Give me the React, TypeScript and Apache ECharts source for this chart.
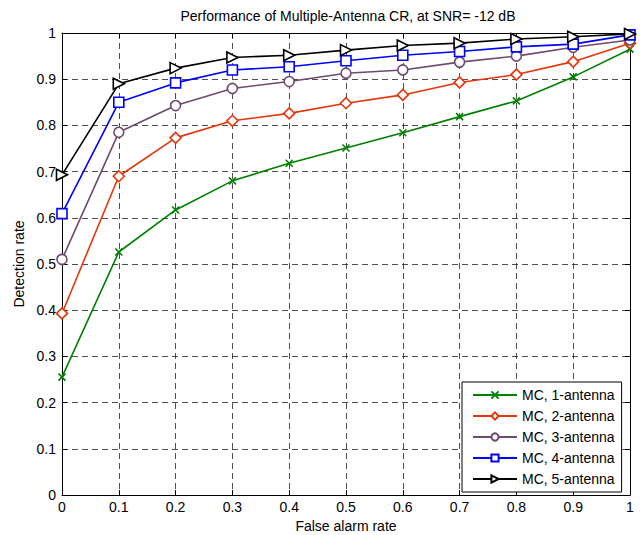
import React, { useEffect, useRef } from "react";
import * as echarts from "echarts";

const xValues = [0, 0.1, 0.2, 0.3, 0.4, 0.5, 0.6, 0.7, 0.8, 0.9, 1];
const ant1 = [0.255, 0.526, 0.617, 0.68, 0.718, 0.751, 0.784, 0.819, 0.853, 0.905, 0.965];
const ant2 = [0.393, 0.69, 0.773, 0.81, 0.826, 0.848, 0.866, 0.893, 0.91, 0.938, 0.978];
const ant3 = [0.51, 0.785, 0.843, 0.88, 0.895, 0.913, 0.92, 0.937, 0.95, 0.969, 0.985];
const ant4 = [0.609, 0.85, 0.892, 0.92, 0.927, 0.94, 0.952, 0.96, 0.97, 0.976, 0.996];
const ant5 = [0.693, 0.89, 0.924, 0.947, 0.952, 0.963, 0.973, 0.978, 0.987, 0.992, 0.998];
const seriesNames = ["MC, 1-antenna", "MC, 2-antenna", "MC, 3-antenna", "MC, 4-antenna", "MC, 5-antenna"];

const FONT = "Liberation Sans, Arial, sans-serif";
const FS = 14;

export default function App() {
  const ref = useRef<HTMLDivElement>(null);
  useEffect(() => {
    if (!ref.current) return;
    const chart = echarts.init(ref.current, null, { renderer: "svg" });
    const pair = (arr: number[]) => arr.map((v, i) => [xValues[i], v]);
    const mk = (
      name: string,
      data: number[],
      color: string,
      symbol: string,
      size: number,
      fill: string
    ) => ({
      name,
      type: "line",
      data: pair(data),
      symbol,
      symbolSize: size,
      showAllSymbol: true,
      lineStyle: { color, width: 1.6 },
      itemStyle: { color: fill, borderColor: color, borderWidth: 1.6 },
      emphasis: { disabled: true },
      z: 3,
    });
    const dashed = { show: true, lineStyle: { color: "#222", type: [6, 4], width: 0.8 } };
    chart.setOption({
      animation: false,
      backgroundColor: "#fff",
      title: {
        text: "Performance of Multiple-Antenna CR, at SNR= -12 dB",
        left: 343,
        textAlign: "center",
        top: 4,
        textStyle: { fontFamily: FONT, fontSize: FS, fontWeight: "normal", color: "#000" },
      },
      grid: {
        left: 62,
        right: 10,
        top: 33,
        bottom: 40,
        containLabel: false,
        outerBoundsMode: "none",
      },
      xAxis: [
        {
          type: "value",
          min: 0,
          max: 1,
          interval: 0.1,
          name: "False alarm rate",
          nameLocation: "middle",
          nameGap: 18,
          nameTextStyle: { fontFamily: FONT, fontSize: FS, color: "#000" },
          axisLine: { show: true, onZero: false, lineStyle: { color: "#000", width: 1 } },
          axisTick: { show: true, inside: true, length: 5, lineStyle: { color: "#000" } },
          axisLabel: { fontFamily: FONT, fontSize: FS, color: "#000", margin: 5 },
          splitLine: dashed,
        },
        {
          type: "value",
          position: "top",
          min: 0,
          max: 1,
          interval: 0.1,
          axisLine: { show: true, onZero: false, lineStyle: { color: "#000", width: 1 } },
          axisTick: { show: true, inside: true, length: 5, lineStyle: { color: "#000" } },
          axisLabel: { show: false },
          splitLine: { show: false },
        },
      ],
      yAxis: [
        {
          type: "value",
          min: 0,
          max: 1,
          interval: 0.1,
          name: "Detection rate",
          nameLocation: "middle",
          nameGap: 31,
          nameRotate: 90,
          nameTextStyle: { fontFamily: FONT, fontSize: FS, color: "#000" },
          axisLine: { show: true, onZero: false, lineStyle: { color: "#000", width: 1 } },
          axisTick: { show: true, inside: true, length: 5, lineStyle: { color: "#000" } },
          axisLabel: { fontFamily: FONT, fontSize: FS, color: "#000", margin: 6 },
          splitLine: dashed,
        },
        {
          type: "value",
          position: "right",
          min: 0,
          max: 1,
          interval: 0.1,
          axisLine: { show: true, onZero: false, lineStyle: { color: "#000", width: 1 } },
          axisTick: { show: true, inside: true, length: 5, lineStyle: { color: "#000" } },
          axisLabel: { show: false },
          splitLine: { show: false },
        },
      ],
      legend: {
        orient: "vertical",
        left: 462,
        top: 382,
        itemWidth: 44,
        itemHeight: 9,
        itemGap: 7,
        padding: [6, 7, 6, 10],
        backgroundColor: "#fff",
        borderColor: "#000",
        borderWidth: 1,
        borderRadius: 0,
        textStyle: { fontFamily: FONT, fontSize: FS, color: "#000", padding: [0, 0, 0, 0] },
        data: seriesNames,
        z: 10,
      },
      series: [
        mk(seriesNames[0], ant1, "#008000", "path://M0,0 L10,10 M10,0 L0,10", 7, "none"),
        mk(seriesNames[1], ant2, "#e5360b", "diamond", 11, "#fff"),
        mk(seriesNames[2], ant3, "#6e4a6e", "circle", 10, "#fff"),
        mk(seriesNames[3], ant4, "#0000ff", "rect", 10, "#fff"),
        mk(seriesNames[4], ant5, "#000000", "path://M0,0 L10,5 L0,10 Z", 11, "#fff"),
      ],
    });
    return () => chart.dispose();
  }, []);
  return (
    <div
      ref={ref}
      style={{ position: "fixed", left: 0, top: 0, width: 640, height: 535 }}
    />
  );
}
